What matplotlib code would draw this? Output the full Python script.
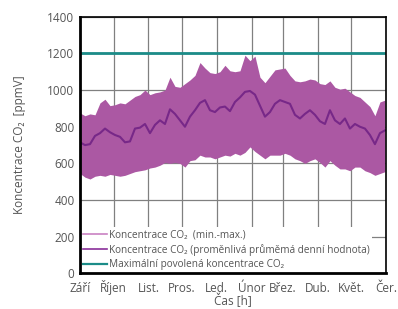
"""
CO2 concentration over the heating season
- min-max band
- moving daily average
"""

import numpy as np
import matplotlib
matplotlib.use("Agg")
import matplotlib.pyplot as plt

plt.rcParams["font.family"] = ["Open Sans", "DejaVu Sans"]


# ======================================================
# DATA
# ======================================================

months = ["Září", "Říjen", "List.", "Pros.", "Led.", "Únor", "Břez.", "Dub.", "Květ.", "Čer."]
month_start_day = [0, 30, 61, 91, 122, 153, 181, 212, 242, 273]

co2_max = [875, 860, 870, 865, 930, 950, 915, 920, 930, 925, 945, 965, 975, 1000, 975, 985,
           990, 1000, 1070, 1020, 1015, 1035, 1055, 1080, 1150, 1120, 1095, 1090, 1100, 1135, 1105,
           1100, 1105, 1190, 1160, 1185, 1070, 1040, 1075, 1110, 1115, 1120, 1080, 1050, 1045, 1050, 1060,
           1055, 1035, 1030, 1050, 1015, 1005, 1010, 990, 970, 960, 935, 910, 860, 935, 945]

co2_min = [545, 525, 515, 530, 535, 530, 540, 535, 530, 535, 545, 555, 560, 565, 575, 580,
           590, 605, 600, 605, 600, 580, 615, 620, 645, 635, 635, 625, 635, 645, 640,
           655, 645, 660, 690, 665, 645, 625, 645, 645, 645, 655, 645, 625, 615, 600, 615,
           625, 605, 580, 615, 590, 570, 570, 560, 580, 580, 560, 550, 535, 545, 555]

co2_avg = [715, 700, 705, 750, 765, 790, 770, 755, 745, 715, 720, 790, 795, 815, 765, 810,
           835, 815, 895, 870, 835, 800, 855, 890, 930, 945, 890, 880, 905, 910, 885,
           935, 960, 990, 995, 975, 915, 855, 880, 925, 945, 935, 925, 865, 845, 870, 890,
           865, 830, 815, 890, 835, 815, 845, 790, 815, 800, 790, 755, 705, 765, 780]

co2_limit = 1200

hours = np.linspace(0, 272, len(co2_avg)) * 24
month_ticks = np.array(month_start_day) * 24


# ======================================================
# PLOT
# ======================================================

fig = plt.figure(figsize=(3.98, 3.09), dpi=100)
ax = fig.add_axes([0.201, 0.115, 0.769, 0.831])

txt = "#555555"

ax.fill_between(hours, co2_min, co2_max, color="#ab58a3", lw=0, zorder=2)
ax.plot(hours, co2_avg, color="#772888", lw=1.5, zorder=3)
ax.axhline(co2_limit, color="#1b8c88", lw=2, zorder=4)

# legend handles
h1, = ax.plot([], [], color="#c982c2", lw=1.2)
h2, = ax.plot([], [], color="#8a2f9a", lw=1.2)
h3, = ax.plot([], [], color="#1b8c88", lw=1.6)
leg = ax.legend([h1, h2, h3],
                ["Koncentrace CO₂  (min.-max.)",
                 "Koncentrace CO₂ (proměnlivá průměmá denní hodnota)",
                 "Maximální povolená koncentrace CO₂"],
                loc="lower left", bbox_to_anchor=(-0.005, -0.005), fontsize=7.2,
                frameon=True, facecolor="white", edgecolor="none", framealpha=1,
                handlelength=2.4, handletextpad=0.2, labelspacing=0.35,
                borderpad=0.25, borderaxespad=0.2)
for t in leg.get_texts():
    t.set_color(txt)
leg.set_zorder(5)

ax.set_xlim(0, 273 * 24)
ax.set_ylim(0, 1400)
ax.set_xticks(month_ticks)
ax.set_xticklabels(months)
ax.set_yticks(range(0, 1401, 200))

ax.grid(True, color="#808080", lw=0.9, zorder=1)
ax.set_axisbelow(True)

ax.tick_params(axis="both", labelsize=8.5, colors=txt, length=0, pad=4)
ax.tick_params(axis="x", pad=13)
for lbl in ax.get_xticklabels():
    lbl.set_va("baseline")

for side in ["left", "bottom"]:
    ax.spines[side].set_linewidth(2)
for side in ["right", "top"]:
    ax.spines[side].set_linewidth(1.2)
for s in ax.spines.values():
    s.set_color("black")
    s.set_zorder(6)

ax.set_ylabel("Koncentrace CO₂  [ppmV]", fontsize=8.5, color=txt, labelpad=15)
ax.set_xlabel("Čas [h]", fontsize=8.5, color=txt, va="baseline")
ax.xaxis.set_label_coords(0.5, -0.125)

fig.savefig("out.png", dpi=100)
plt.close(fig)
